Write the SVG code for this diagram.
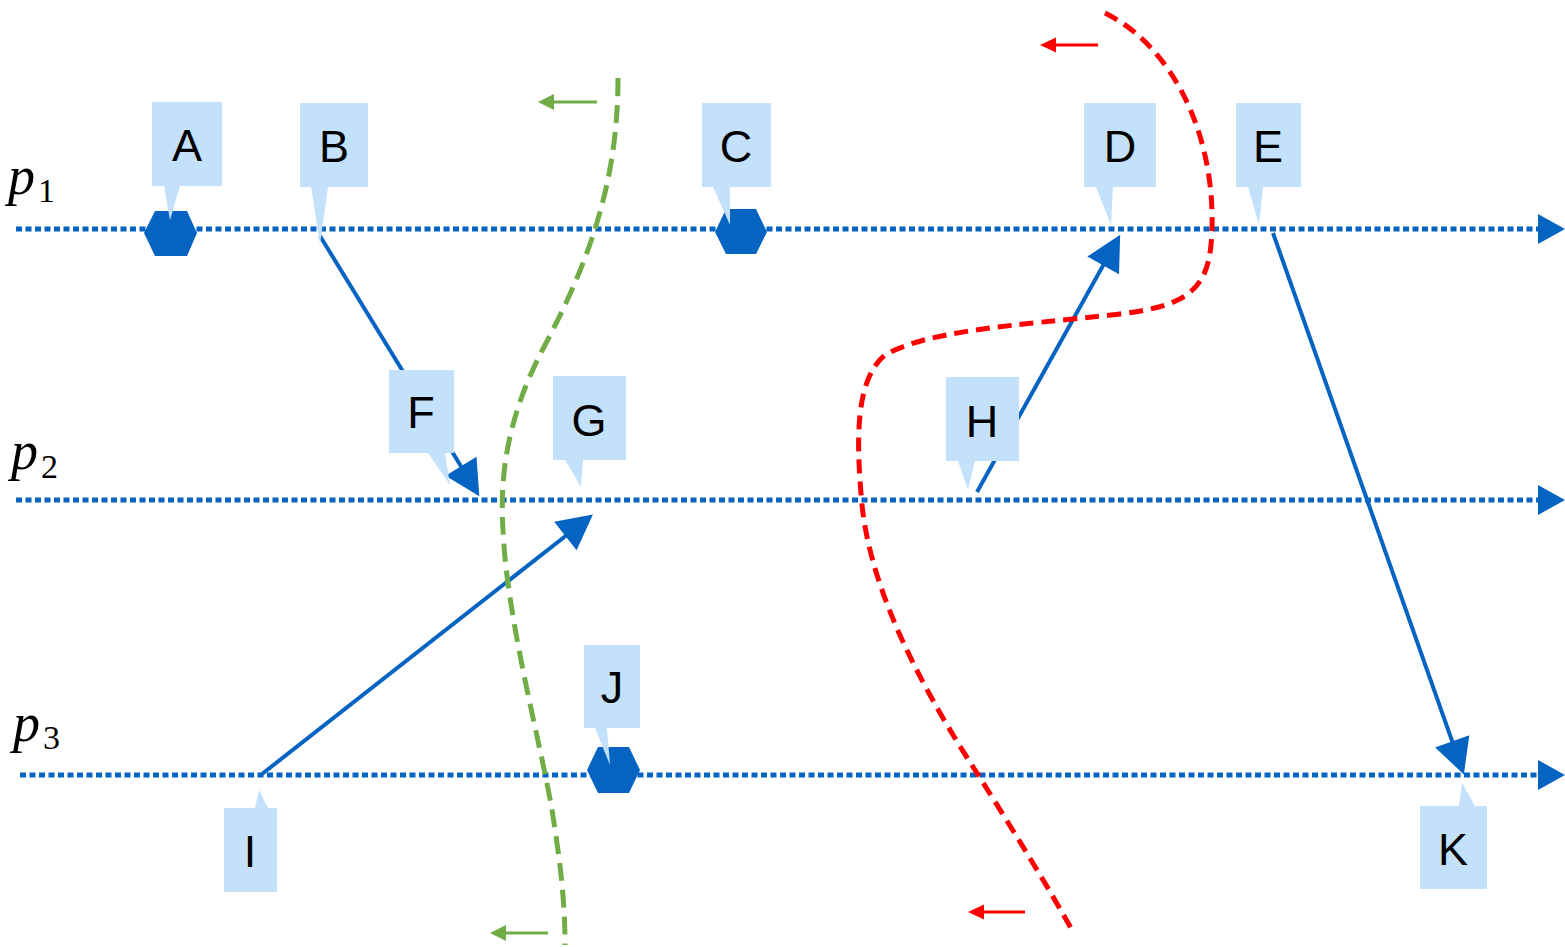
<svg xmlns="http://www.w3.org/2000/svg" width="1565" height="947" viewBox="0 0 1565 947">
<style>
.tl{stroke:#0563C1;stroke-width:5;stroke-dasharray:6 3.5;fill:none}
.msg{stroke:#0563C1;stroke-width:4;fill:none;marker-end:url(#ah)}
.hex{fill:#0563C1}
.co{fill:#C4E1FC}
.lbl{font-family:"Liberation Sans",Arial,sans-serif;font-size:45px;fill:#000;text-anchor:middle}
.pl{font-family:"Liberation Serif","Times New Roman",serif;font-style:italic;font-size:54px;fill:#000}
.sub{font-family:"Liberation Serif","Times New Roman",serif;font-size:34px;fill:#000}
.green{stroke:#70AD47;stroke-width:5;fill:none;stroke-dasharray:18 9}
.red{stroke:#FF0000;stroke-width:5;fill:none;stroke-dasharray:14 8}
</style>
<defs>
<marker id="ah" markerUnits="userSpaceOnUse" markerWidth="40" markerHeight="40" viewBox="-20 -16 32 32" refX="0" refY="0" orient="auto"><path d="M10,0 L-18,-14.5 L-18,14.5 Z" fill="#0563C1"/></marker>
<marker id="th" markerUnits="userSpaceOnUse" markerWidth="30" markerHeight="32" viewBox="0 -16 28 32" refX="0" refY="0" orient="auto"><path d="M0,-15 L27,0 L0,15 Z" fill="#0563C1"/></marker>
</defs>
<rect width="1565" height="947" fill="#fff"/>

<g id="process-labels">
<text class="pl" x="8" y="194">p</text><text class="sub" x="38" y="202">1</text>
<text class="pl" x="11" y="469">p</text><text class="sub" x="41" y="478">2</text>
<text class="pl" x="13" y="741">p</text><text class="sub" x="43" y="749">3</text>
</g>

<g id="timelines">
<line class="tl" x1="16" y1="229" x2="1538" y2="229" marker-end="url(#th)"/>
<line class="tl" x1="16" y1="500" x2="1538" y2="500" marker-end="url(#th)"/>
<line class="tl" x1="20" y1="775" x2="1538" y2="775" marker-end="url(#th)"/>
</g>

<g id="events">
<polygon id="evA" class="hex" points="144,233 155,211 187,211 197,233 187,256 155,256"/>
<polygon id="evC" class="hex" points="715,232 726,209 756,209 767,232 756,254 726,254"/>
<polygon id="evJ" class="hex" points="587,770 598,747 629,747 640,770 629,793 598,793"/>
</g>

<g id="connectors">
<line class="msg" x1="320" y1="236" x2="472.8" y2="485.5"/>
<line class="msg" x1="262" y1="774" x2="583.1" y2="522.2"/>
<line class="msg" x1="977" y1="492" x2="1114.1" y2="245.7"/>
<line class="msg" x1="1273" y1="233" x2="1459.7" y2="762.6"/>
</g>

<g id="cuts">
<path class="green" d="M618,78 C618,180 590,260 545,345 C505,420 500,480 503,530 C507,620 540,740 552,810 C560,860 565,900 565,945"/>
<line x1="597" y1="102" x2="550" y2="102" stroke="#70AD47" stroke-width="3"/>
<polygon points="538,102 554,94 554,110" fill="#70AD47"/>
<line x1="548" y1="933" x2="502" y2="933" stroke="#70AD47" stroke-width="3"/>
<polygon points="490,933 506,925 506,941" fill="#70AD47"/>
<path class="red" d="M1105,13 C1170,45 1215,130 1212,230 C1210,285 1195,305 1120,314 C1010,326 930,330 885,355 C855,380 856,440 862,505 C872,600 930,700 975,770 C1010,825 1050,890 1072,930"/>
<line x1="1098" y1="45" x2="1052" y2="45" stroke="#FF0000" stroke-width="3"/>
<polygon points="1040,45 1056,37.5 1056,52.5" fill="#FF0000"/>
<line x1="1025" y1="912" x2="980" y2="912" stroke="#FF0000" stroke-width="3"/>
<polygon points="968,912 984,904.5 984,919.5" fill="#FF0000"/>
</g>

<g id="A"><path class="co" d="M152,102 H222 V186 H180 L170,220 L164,186 H152 Z"/><text class="lbl" x="187" y="161">A</text></g>
<g id="B"><path class="co" d="M300,103 H368 V187 H328 L320,244 L311,187 H300 Z"/><text class="lbl" x="334" y="162">B</text></g>
<g id="C"><path class="co" d="M702,103 H771 V187 H730 L730,225 L713,187 H702 Z"/><text class="lbl" x="736" y="162">C</text></g>
<g id="D"><path class="co" d="M1084,103 H1156 V187 H1113 L1111,225 L1096,187 H1084 Z"/><text class="lbl" x="1120" y="162">D</text></g>
<g id="E"><path class="co" d="M1236,103 H1301 V187 H1263 L1259,225 L1248,187 H1236 Z"/><text class="lbl" x="1268" y="162">E</text></g>
<g id="F"><path class="co" d="M389,370 H454 V453 H445 L450,485 L428,453 H389 Z"/><text class="lbl" x="421" y="428">F</text></g>
<g id="G"><path class="co" d="M553,376 H626 V460 H583 L581,487 L565,460 H553 Z"/><text class="lbl" x="589" y="436">G</text></g>
<g id="H"><path class="co" d="M946,377 H1019 V461 H975 L968,490 L958,461 H946 Z"/><text class="lbl" x="982" y="437">H</text></g>
<g id="I"><path class="co" d="M224,808 H277 V892 H224 V808 H255 L259,790 L268,808 Z"/><text class="lbl" x="250" y="867">I</text></g>
<g id="J"><path class="co" d="M584,645 H640 V728 H607 L610,765 L595,728 H584 Z"/><text class="lbl" x="612" y="703">J</text></g>
<g id="K"><path class="co" d="M1420,806 H1487 V889 H1420 V806 H1459 L1462,783 L1475,806 Z"/><text class="lbl" x="1453" y="865">K</text></g>
</svg>
